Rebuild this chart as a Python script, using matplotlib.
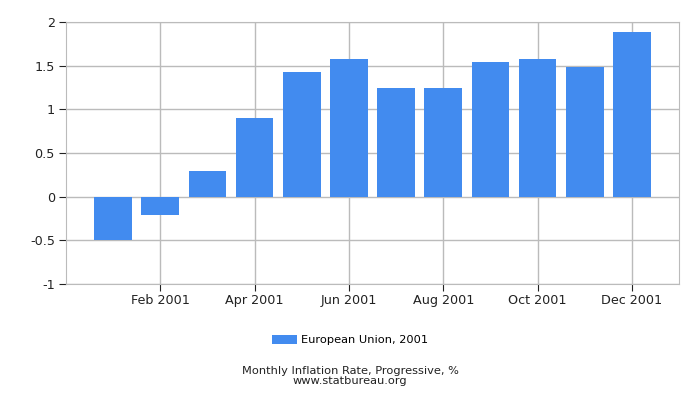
import matplotlib
matplotlib.use('Agg')
import matplotlib.pyplot as plt
import numpy as np

months = ['Jan 2001', 'Feb 2001', 'Mar 2001', 'Apr 2001', 'May 2001', 'Jun 2001',
          'Jul 2001', 'Aug 2001', 'Sep 2001', 'Oct 2001', 'Nov 2001', 'Dec 2001']
rates = [-0.5, -0.21, 0.29, 0.9, 1.43, 1.58, 1.24, 1.24, 1.54, 1.58, 1.49, 1.89]
series_label = 'European Union, 2001'
y_ticks = [-1, -0.5, 0, 0.5, 1, 1.5, 2]
y_labels = ['-1', '-0.5', '0', '0.5', '1', '1.5', '2']

bar_color = '#428bef'
grid_color = '#bbbbbb'

fig = plt.figure(figsize=(7, 4), dpi=100)
ax = fig.add_axes([66 / 700, 1 - 284 / 400, 613 / 700, 262 / 400])

x = np.arange(len(months))
ax.bar(x, rates, width=0.8, color=bar_color, label=series_label, zorder=3)

ax.set_xlim(-1, 12)
ax.set_ylim(-1, 2)
ax.set_yticks(y_ticks)
ax.set_yticklabels(y_labels)
ax.set_xticks(x[1::2])
ax.set_xticklabels(months[1::2])

ax.grid(True, color=grid_color, linewidth=1, zorder=0)
for s in ax.spines.values():
    s.set_color(grid_color)
ax.tick_params(axis='both', direction='out', length=5, color='#222222',
               labelsize=9.2, labelcolor='#222222', pad=3)
ax.tick_params(axis='x', pad=2)

fig.legend(loc='center', bbox_to_anchor=(0.5, 1 - 340 / 400), frameon=False,
           fontsize=8.2, handlelength=2.2, handleheight=0.8, handletextpad=0.4)
fig.text(0.5, 1 - 371 / 400, 'Monthly Inflation Rate, Progressive, %',
         ha='center', va='center', fontsize=8.2, color='#222222')
fig.text(0.5, 1 - 381.5 / 400, 'www.statbureau.org',
         ha='center', va='center', fontsize=8.2, color='#222222')

fig.savefig('out.png', dpi=100)
